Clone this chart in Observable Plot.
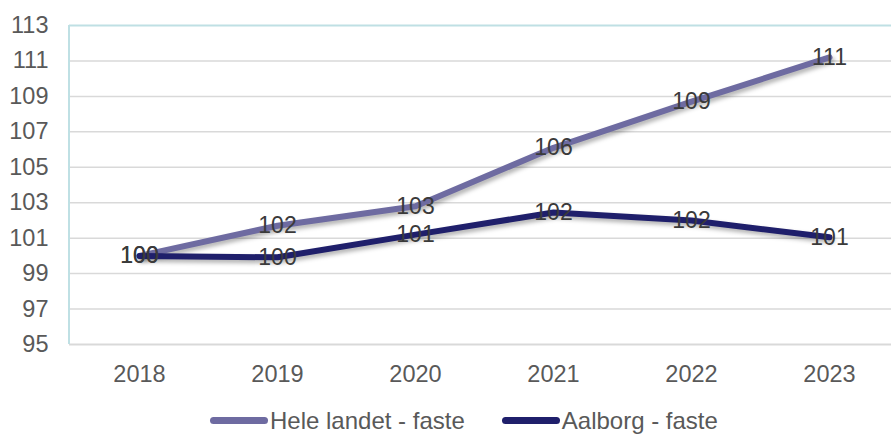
<!DOCTYPE html>
<html>
<head>
<meta charset="utf-8">
<script src="https://cdn.jsdelivr.net/npm/d3@7"></script>
<script src="https://cdn.jsdelivr.net/npm/@observablehq/plot@0.6"></script>
<style>
  body { margin: 0; background: #fff; font-family: "Liberation Sans", Arial, sans-serif; overflow: hidden; position: relative; width: 891px; height: 435px; }
  #legend { position: absolute; top: 407px; left: 210px; display: flex; align-items: center; color: #595959; font-size: 24px; line-height: 27px; white-space: nowrap; }
  .item { display: flex; align-items: center; margin-right: 37px; }
  .swatch { width: 58px; height: 7px; border-radius: 3.5px; margin-right: 2px; }
</style>
</head>
<body>
<div id="chart"></div>
<div id="legend"></div>
<script>
const years = ["2018", "2019", "2020", "2021", "2022", "2023"];
const seriesNames = ["Hele landet - faste", "Aalborg - faste"];
const heleLandet = [100, 101.7, 102.8, 106.1, 108.7, 111.2];
const aalborg = [100, 99.92, 101.2, 102.45, 102.0, 101.05];
const labelsHele = ["100", "102", "103", "106", "109", "111"];
const labelsAalborg = ["100", "100", "101", "102", "102", "101"];
const colors = ["#6e6ba1", "#1f1f6b"];
const yTicks = [95, 97, 99, 101, 103, 105, 107, 109, 111, 113];

const data = [];
years.forEach((y, i) => data.push({year: y, value: heleLandet[i], label: labelsHele[i], series: seriesNames[0]}));
years.forEach((y, i) => data.push({year: y, value: aalborg[i], label: labelsAalborg[i], series: seriesNames[1]}));

const plot = Plot.plot({
  width: 891,
  height: 400,
  marginLeft: 69,
  marginRight: -8,
  marginTop: 25,
  marginBottom: 56,
  style: {fontFamily: "Liberation Sans, Arial, sans-serif", fontSize: "23.5px", color: "#595959", background: "white", overflow: "visible"},
  x: {type: "point", domain: years, padding: 0.5},
  y: {domain: [95, 113]},
  color: {domain: seriesNames, range: colors},
  marks: [
    Plot.ruleY(yTicks.slice(1, -1), {stroke: "#d9d9d9", strokeWidth: 1.5}),
    Plot.ruleY([95], {stroke: "#d9d9d9", strokeWidth: 2}),
    Plot.ruleY([113], {stroke: "#bfe0e4", strokeWidth: 2}),
    Plot.axisY({ticks: yTicks, tickSize: 0, tickPadding: 21, fontSize: 23.5, label: null, fill: "#595959"}),
    Plot.axisX({tickSize: 0, tickPadding: 21, fontSize: 23.5, label: null, fill: "#595959"}),
    Plot.line(data, {x: "year", y: "value", z: "series", stroke: "series", strokeWidth: 6, strokeLinejoin: "round", strokeLinecap: "round", className: "series-line"}),
    Plot.text(data, {x: "year", y: "value", text: "label", fontSize: 23, fill: "#3a3a3a"})
  ]
});
document.getElementById("chart").appendChild(plot);

const svg = d3.select(plot);
svg.selectAll(".series-line path").style("filter", "drop-shadow(2px 3px 2px rgba(0,0,0,0.3))");

// left border of the plot area (light blue), drawn from the y scale
const ys = plot.scale("y");
svg.insert("line", "g[aria-label='line']")
  .attr("x1", 69).attr("x2", 69)
  .attr("y1", ys.apply(113)).attr("y2", ys.apply(95))
  .attr("stroke", "#bfe0e4").attr("stroke-width", 2);

const legend = document.getElementById("legend");
seriesNames.forEach((name, i) => {
  const item = document.createElement("div");
  item.className = "item";
  const sw = document.createElement("span");
  sw.className = "swatch";
  sw.style.background = colors[i];
  const t = document.createElement("span");
  t.textContent = name;
  item.appendChild(sw);
  item.appendChild(t);
  legend.appendChild(item);
});
</script>
</body>
</html>
